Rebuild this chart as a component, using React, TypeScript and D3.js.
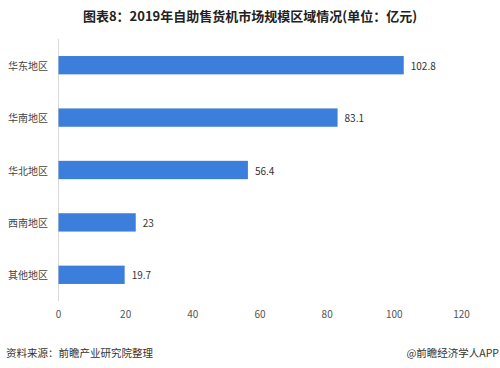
import React from "react";
import * as d3 from "d3";

const categories = ["华东地区", "华南地区", "华北地区", "西南地区", "其他地区"];
const values = [102.8, 83.1, 56.4, 23, 19.7];
const xTicks = [0, 20, 40, 60, 80, 100, 120];
const title = "图表8：2019年自助售货机市场规模区域情况(单位：亿元)";
const source = "资料来源：前瞻产业研究院整理";
const credit = "@前瞻经济学人APP";

const W = 500;
const H = 368;
const FONT = "'Noto Sans CJK SC', 'Noto Sans', sans-serif";

export default function App() {
  const x = d3.scaleLinear().domain([0, 120]).range([58.5, 461.5]);
  const y = d3
    .scaleBand<string>()
    .domain(categories)
    .range([39, 301])
    .paddingInner(0.65)
    .paddingOuter(0.325);
  const bw = y.bandwidth();
  return (
    <div style={{ position: "fixed", left: 0, top: 0, width: W, height: H, background: "#fff" }}>
      <svg width={W} height={H} style={{ display: "block" }} fontFamily={FONT}>
        <rect width={W} height={H} fill="#fff" />
        <text x={250} y={21} textAnchor="middle" fontSize={13} fontWeight="bold" fill="#222">
          {title}
        </text>
        <line x1={x(0)} x2={x(0)} y1={39} y2={301} stroke="#d9d9d9" strokeWidth={1} />
        {categories.map((c, i) => (
          <g key={c}>
            <rect x={x(0)} y={y(c)!} width={x(values[i]) - x(0)} height={bw} fill="#3c7edb" />
            <text
              x={48}
              y={y(c)! + bw / 2}
              textAnchor="end"
              dominantBaseline="central"
              fontSize={10}
              fill="#444"
            >
              {c}
            </text>
            <text
              x={x(values[i]) + 7}
              y={y(c)! + bw / 2}
              dominantBaseline="central"
              fontSize={10}
              fill="#333"
            >
              {values[i]}
            </text>
          </g>
        ))}
        {xTicks.map((t) => (
          <text
            key={t}
            x={x(t)}
            y={313}
            textAnchor="middle"
            dominantBaseline="central"
            fontSize={10}
            fill="#555"
          >
            {t}
          </text>
        ))}
        <text x={6} y={352} dominantBaseline="central" fontSize={10.5} fill="#333">
          {source}
        </text>
        <text x={499} y={352} textAnchor="end" dominantBaseline="central" fontSize={10.5} fill="#333">
          {credit}
        </text>
      </svg>
    </div>
  );
}
